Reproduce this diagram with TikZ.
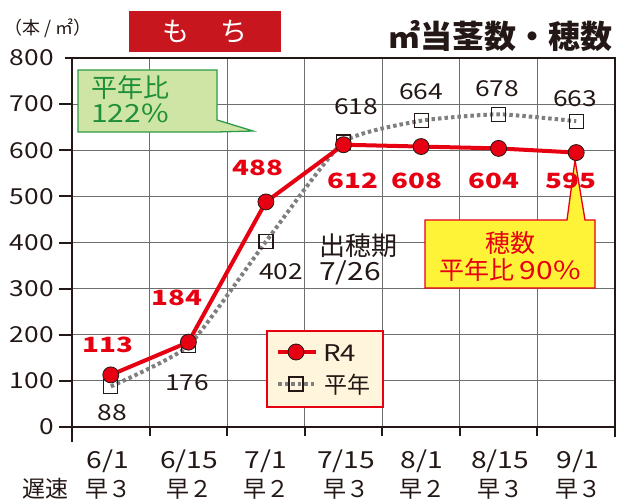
\documentclass[tikz,border=0pt]{standalone}
\usepackage{fontspec}
\setmainfont{Noto Sans CJK JP}
\newfontfamily\numfont[FakeStretch=1.2]{Noto Sans CJK JP}
\newfontfamily\rnumfont[FakeStretch=1.32]{Noto Sans CJK JP}
\definecolor{dred}{HTML}{E60012}
\definecolor{tred}{HTML}{C8161E}
\definecolor{gline}{HTML}{6E6E6E}
\definecolor{dotg}{HTML}{7F7F7F}
\definecolor{ink}{HTML}{231815}
\definecolor{gfill}{HTML}{CFE5A6}
\definecolor{gdraw}{HTML}{2E9B47}
\definecolor{gtext}{HTML}{1F8F3A}
\definecolor{yfill}{HTML}{FFF338}
\definecolor{lfill}{HTML}{FFF5DC}
\tikzset{
  gridln/.style={gline, line width=1.1pt},
  axisln/.style={ink, line width=2pt},
  axnum/.style={text=ink, anchor=east, inner sep=0pt, font=\fontsize{22}{22}\numfont},
  rlab/.style={text=dred, inner sep=0pt, font=\fontsize{21}{21}\rnumfont\bfseries},
  blab/.style={text=ink, inner sep=0pt, font=\fontsize{22}{22}\numfont},
  datelab/.style={text=ink, inner sep=0pt, font=\fontsize{23.5}{23.5}\numfont},
  jlab/.style={text=ink, inner sep=0pt, font=\fontsize{23}{23}\selectfont},
  r4line/.style={dred, line width=4pt, line join=round},
  normline/.style={dotg, line width=4pt, dash pattern=on 3.5pt off 3pt},
  r4dot/.style={circle, fill=dred, draw=ink, line width=0.8pt, minimum size=16pt, inner sep=0pt},
  normsq/.style={rectangle, draw=ink, line width=1.2pt, minimum size=14pt, inner sep=0pt}
}
\begin{document}
\begin{tikzpicture}[x=1pt,y=-1pt]
\useasboundingbox (0,0) rectangle (617,500);
\foreach \yy in {104.1,150.25,196.4,242.5,288.6,334.75,380.9} {
  \draw[gridln] (72,\yy) -- (615,\yy);
  \draw[axisln] (59,\yy) -- (72,\yy);
}
\foreach \xx in {149.6,227.1,304.7,382.3,459.9,537.4} {
  \draw[gridln] (\xx,58) -- (\xx,427);
  \draw[axisln] (\xx,427) -- (\xx,436);
}
\draw[axisln] (65,58) -- (615,58) -- (615,437);
\draw[axisln] (72,58) -- (72,442);
\draw[axisln] (59,427) -- (615,427);
\foreach \v/\yy in {800/58,700/104.1,600/150.25,500/196.4,400/242.5,300/288.6,200/334.75,100/380.9,0/427}
  \node[axnum] (yl\v) at (54,\yy) {\v};
\node[text=ink, inner sep=0pt, font=\fontsize{18}{18}\selectfont] (unit) at (48,28) {（本 / ㎡）};
\node[fill=tred, minimum width=152pt, minimum height=41pt, inner sep=0pt] (mochi) at (205,31.5) {};
\node[text=white, font=\fontsize{27}{27}\selectfont] (mochit) at (mochi) {も\hspace{1.15em}ち};
\node[text=ink, anchor=east, inner sep=0pt, font=\fontsize{32}{32}\selectfont\bfseries] (title) at (613,36) {㎡当茎数・穂数};
\filldraw[fill=gfill, draw=gdraw, line width=1.3pt] (78,70) -- (217,70) -- (217,120) -- (253,131) -- (217,132) -- (78,132) -- cycle;
\node[text=gtext, anchor=west, inner sep=0pt, font=\fontsize{26}{26}\selectfont] (g1) at (91,88) {平年比};
\node[text=gtext, anchor=west, inner sep=0pt, font=\fontsize{25}{25}\numfont] (g2) at (91,113) {122\%};
\filldraw[fill=yfill, draw=dred, line width=1.3pt] (425,220) -- (567,220) -- (575,160) -- (585,220) -- (595,220) -- (595,288) -- (425,288) -- cycle;
\node[text=dred, inner sep=0pt, font=\fontsize{25}{25}\selectfont] (y1) at (510,243) {穂数};
\node[text=dred, inner sep=0pt, font=\fontsize{25}{25}\selectfont] (y2) at (510,270) {平年比 {\numfont 90\%}};
\node[fill=lfill, draw=dred, line width=1.3pt, minimum width=116pt, minimum height=76pt, inner sep=0pt] (leg) at (325,369) {};
\coordinate (la1) at (278,352);
\coordinate (la2) at (316,352);
\coordinate (lb1) at (278,384);
\coordinate (lb2) at (316,384);
\draw[r4line] (la1) -- (la2);
\node[r4dot] (ld) at (296,352) {};
\draw[normline] (lb1) -- (lb2);
\node[normsq] (ls) at (296,384) {};
\node[text=ink, anchor=west, inner sep=0pt, font=\fontsize{23}{23}\numfont] (lr4) at (323,353) {R4};
\node[text=ink, anchor=west, inner sep=0pt, font=\fontsize{23}{23}\selectfont] (lnorm) at (324,385) {平年};
\node[text=ink, anchor=west, inner sep=0pt, font=\fontsize{26}{26}\selectfont] (hd1) at (319,246) {出穂期};
\node[text=ink, anchor=west, inner sep=0pt, font=\fontsize{25}{25}\numfont] (hd2) at (319,273) {7/26};
\begin{scope}[yshift=-427pt, y=0.46125pt]
  \foreach \i/\xx/\r/\n in {1/110.8/113/88, 2/188.4/184/176, 3/265.9/488/402, 4/343.5/612/618, 5/421.1/608/664, 6/498.6/604/678, 7/576.2/595/663} {
    \coordinate (r\i) at (\xx,\r);
    \coordinate (n\i) at (\xx,\n);
  }
\end{scope}
\draw[normline] plot[smooth, tension=0.3] coordinates {(n1) (n2) (n3) (n4) (n5) (n6) (n7)};
\foreach \i in {1,...,7} \node[normsq] (sq\i) at (n\i) {};
\draw[r4line] (r1) -- (r2) -- (r3) -- (r4) -- (r5) -- (r6) -- (r7);
\foreach \i in {1,...,7} \node[r4dot] (dot\i) at (r\i) {};
\node[rlab] (rl1) at (108,345) {113};
\node[rlab] (rl2) at (177,298) {184};
\node[rlab] (rl3) at (258,168) {488};
\node[rlab] (rl4) at (353,181) {612};
\node[rlab] (rl5) at (417,181) {608};
\node[rlab] (rl6) at (494,181) {604};
\node[rlab] (rl7) at (571,181) {595};
\node[blab] (bl1) at (112,413) {88};
\node[blab] (bl2) at (187,383) {176};
\node[blab] (bl3) at (281,272) {402};
\node[blab] (bl4) at (356,107) {618};
\node[blab] (bl5) at (421,92) {664};
\node[blab] (bl6) at (497,89) {678};
\node[blab] (bl7) at (575,99) {663};
\foreach \i/\xx/\d/\s in {1/108/6\slash1/早３, 2/189/6\slash15/早２, 3/266/7\slash1/早２, 4/346/7\slash15/早３, 5/422/8\slash1/早２, 6/500/8\slash15/早３, 7/578/9\slash1/早３} {
  \node[datelab] (d\i) at (\xx,461) {\d};
  \node[jlab] (s\i) at (\xx,489) {\s};
}
\node[jlab] (chisoku) at (45,489) {遅速};
\end{tikzpicture}
\end{document}
